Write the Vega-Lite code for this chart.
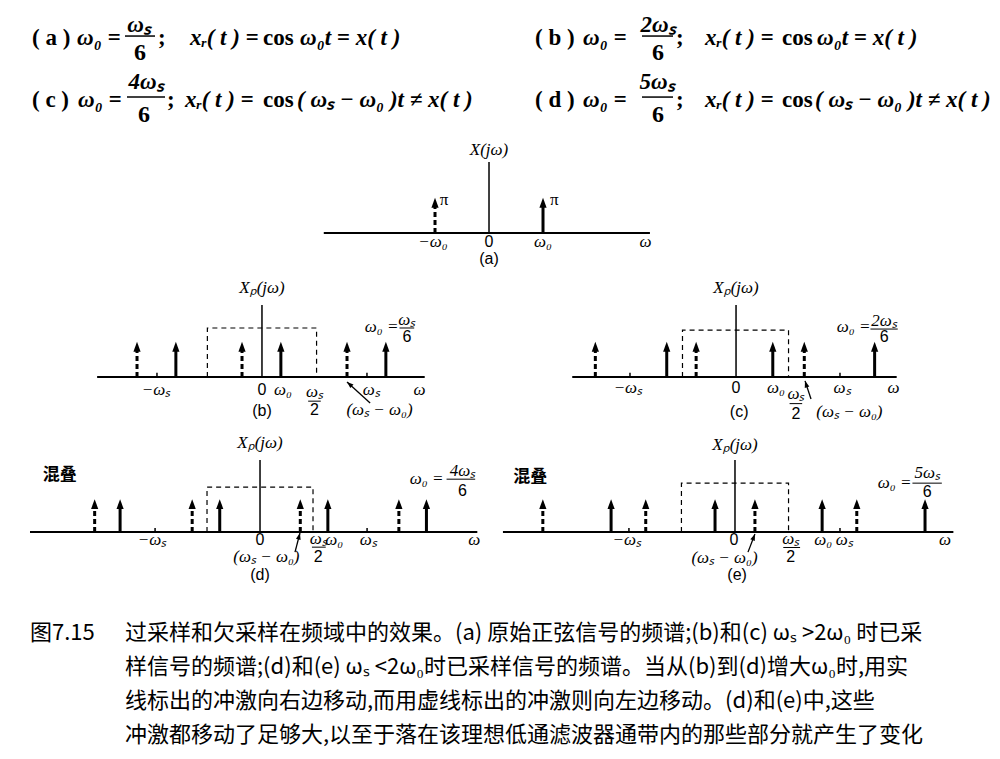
{
"$schema": "https://vega.github.io/schema/vega-lite/v6.json",
"padding": 0,
"spacing": 0,
"background": "white",
"config": {"view": {"stroke": null}, "concat": {"spacing": 0}},
"datasets": {
"formula": [
{"role":"tag","x":3.2,"y":28.1,"text":"( a )"},
{"role":"math","x":7.7,"y":28.1,"text":"ω₀ ="},
{"role":"fracnum","x":13.9,"y":18.5,"text":"ωₛ"},
{"role":"fracden","x":14.0,"y":39.3,"text":"6"},
{"role":"tag","x":15.8,"y":28.1,"text":";"},
{"role":"math","x":19.0,"y":28.1,"text":"xᵣ( t ) ="},
{"role":"tag","x":26.3,"y":28.1,"text":"cos"},
{"role":"math","x":30.0,"y":28.1,"text":"ω₀t = x( t )"},
{"role":"tag","x":53.5,"y":28.1,"text":"( b )"},
{"role":"math","x":58.3,"y":28.1,"text":"ω₀ ="},
{"role":"fracnum","x":65.8,"y":18.5,"text":"2ωₛ"},
{"role":"fracden","x":65.8,"y":39.3,"text":"6"},
{"role":"tag","x":67.6,"y":28.1,"text":";"},
{"role":"math","x":70.5,"y":28.1,"text":"xᵣ( t ) ="},
{"role":"tag","x":78.2,"y":28.1,"text":"cos"},
{"role":"math","x":81.7,"y":28.1,"text":"ω₀t = x( t )"},
{"role":"tag","x":3.2,"y":74.1,"text":"( c )"},
{"role":"math","x":7.8,"y":74.1,"text":"ω₀ ="},
{"role":"fracnum","x":14.6,"y":60.7,"text":"4ωₛ"},
{"role":"fracden","x":14.4,"y":85.2,"text":"6"},
{"role":"tag","x":16.7,"y":74.1,"text":";"},
{"role":"math","x":18.5,"y":74.1,"text":"xᵣ( t ) ="},
{"role":"tag","x":26.3,"y":74.1,"text":"cos"},
{"role":"math","x":29.7,"y":74.1,"text":"( ωₛ − ω₀ )t ≠ x( t )"},
{"role":"tag","x":53.5,"y":74.1,"text":"( d )"},
{"role":"math","x":58.3,"y":74.1,"text":"ω₀ ="},
{"role":"fracnum","x":65.7,"y":60.7,"text":"5ωₛ"},
{"role":"fracden","x":65.8,"y":85.2,"text":"6"},
{"role":"tag","x":67.6,"y":74.1,"text":";"},
{"role":"math","x":70.5,"y":74.1,"text":"xᵣ( t ) ="},
{"role":"tag","x":78.2,"y":74.1,"text":"cos"},
{"role":"math","x":81.5,"y":74.1,"text":"( ωₛ − ω₀ )t ≠ x( t )"}
],
"formulabars": [
{"x0":12.5,"x1":15.5,"y":26.7},
{"x0":64.2,"x1":67.3,"y":26.7},
{"x0":12.7,"x1":16.5,"y":71.9},
{"x0":64.2,"x1":67.3,"y":71.9}
],
"caption": [
{"x":3.0,"y":25.4,"text":"图7.15"},
{"x":12.5,"y":25.4,"text":"过采样和欠采样在频域中的效果。(a) 原始正弦信号的频谱;(b)和(c) ωₛ >2ω₀ 时已采"},
{"x":12.5,"y":45.6,"text":"样信号的频谱;(d)和(e) ωₛ <2ω₀时已采样信号的频谱。当从(b)到(d)增大ω₀时,用实"},
{"x":12.5,"y":65.7,"text":"线标出的冲激向右边移动,而用虚线标出的冲激则向左边移动。(d)和(e)中,这些"},
{"x":12.5,"y":85.8,"text":"冲激都移动了足够大,以至于落在该理想低通滤波器通带内的那些部分就产生了变化"}
],
"impulses": [
{"panel":"a","w":-1,"kind":"dashed","base":0,"amp":0.85},{"panel":"a","w":1,"kind":"solid","base":0,"amp":0.85},
{"panel":"b","w":-1.19,"kind":"dashed","base":0,"amp":0.85},{"panel":"b","w":-0.82,"kind":"solid","base":0,"amp":0.85},{"panel":"b","w":-0.19,"kind":"dashed","base":0,"amp":0.85},{"panel":"b","w":0.18,"kind":"solid","base":0,"amp":0.85},{"panel":"b","w":0.81,"kind":"dashed","base":0,"amp":0.85},{"panel":"b","w":1.18,"kind":"solid","base":0,"amp":0.85},
{"panel":"c","w":-1.34,"kind":"dashed","base":0,"amp":0.85},{"panel":"c","w":-0.66,"kind":"solid","base":0,"amp":0.85},{"panel":"c","w":-0.38,"kind":"dashed","base":0,"amp":0.85},{"panel":"c","w":0.35,"kind":"solid","base":0,"amp":0.85},{"panel":"c","w":0.65,"kind":"dashed","base":0,"amp":0.85},{"panel":"c","w":1.32,"kind":"solid","base":0,"amp":0.85},
{"panel":"d","w":-1.56,"kind":"dashed","base":0,"amp":0.83},{"panel":"d","w":-1.32,"kind":"solid","base":0,"amp":0.83},{"panel":"d","w":-0.64,"kind":"dashed","base":0,"amp":0.83},{"panel":"d","w":-0.38,"kind":"solid","base":0,"amp":0.83},{"panel":"d","w":0.38,"kind":"dashed","base":0,"amp":0.83},{"panel":"d","w":0.64,"kind":"solid","base":0,"amp":0.83},{"panel":"d","w":1.31,"kind":"dashed","base":0,"amp":0.83},{"panel":"d","w":1.57,"kind":"solid","base":0,"amp":0.83},
{"panel":"e","w":-1.83,"kind":"dashed","base":0,"amp":0.83},{"panel":"e","w":-1.18,"kind":"solid","base":0,"amp":0.83},{"panel":"e","w":-0.85,"kind":"dashed","base":0,"amp":0.83},{"panel":"e","w":-0.19,"kind":"solid","base":0,"amp":0.83},{"panel":"e","w":0.19,"kind":"dashed","base":0,"amp":0.83},{"panel":"e","w":0.83,"kind":"solid","base":0,"amp":0.83},{"panel":"e","w":1.16,"kind":"dashed","base":0,"amp":0.83},{"panel":"e","w":1.81,"kind":"solid","base":0,"amp":0.83}
],
"frames": [
{"panel":"a","wmin":-3.06,"wmax":2.98,"vtop":2.03,"origin":0},
{"panel":"b","wmin":-1.57,"wmax":1.55,"vtop":2.06,"origin":0},
{"panel":"c","wmin":-1.56,"wmax":1.53,"vtop":2.06,"origin":0},
{"panel":"d","wmin":-2.17,"wmax":2.05,"vtop":2.18,"origin":0},
{"panel":"e","wmin":-2.21,"wmax":2.08,"vtop":2.18,"origin":0}
],
"ticks": [
{"panel":"b","w":-1,"v0":0,"v1":0.12},{"panel":"b","w":1,"v0":0,"v1":0.12},
{"panel":"c","w":-1.01,"v0":0,"v1":0.12},{"panel":"c","w":0.99,"v0":0,"v1":0.12},
{"panel":"d","w":-0.99,"v0":0,"v1":0.12},{"panel":"d","w":1.01,"v0":0,"v1":0.12},
{"panel":"e","w":-1.01,"v0":0,"v1":0.12},{"panel":"e","w":1.0,"v0":0,"v1":0.12}
],
"passband": [
{"panel":"b","i":0,"w":-0.52,"v":0},{"panel":"b","i":1,"w":-0.52,"v":1.4},{"panel":"b","i":2,"w":0.52,"v":1.4},{"panel":"b","i":3,"w":0.52,"v":0},
{"panel":"c","i":0,"w":-0.51,"v":0},{"panel":"c","i":1,"w":-0.51,"v":1.34},{"panel":"c","i":2,"w":0.5,"v":1.34},{"panel":"c","i":3,"w":0.5,"v":0},
{"panel":"d","i":0,"w":-0.5,"v":0},{"panel":"d","i":1,"w":-0.5,"v":1.36},{"panel":"d","i":2,"w":0.5,"v":1.36},{"panel":"d","i":3,"w":0.5,"v":0},
{"panel":"e","i":0,"w":-0.51,"v":0},{"panel":"e","i":1,"w":-0.51,"v":1.48},{"panel":"e","i":2,"w":0.51,"v":1.48},{"panel":"e","i":3,"w":0.51,"v":0}
],
"fracbars": [
{"panel":"b","w0":0.44,"w1":0.56,"v":-0.69},{"panel":"b","w0":1.31,"w1":1.45,"v":1.4},
{"panel":"c","w0":0.51,"w1":0.63,"v":-0.76},{"panel":"c","w0":1.28,"w1":1.54,"v":1.37},
{"panel":"d","w0":0.49,"w1":0.62,"v":-0.46},{"panel":"d","w0":1.76,"w1":2.03,"v":1.6},
{"panel":"e","w0":0.46,"w1":0.62,"v":-0.47},{"panel":"e","w0":1.69,"w1":1.97,"v":1.48}
],
"pointers": [
{"panel":"b","w0":1.03,"v0":-0.74,"w1":0.81,"v1":-0.14,"angle":-48},
{"panel":"c","w0":0.714,"v0":-0.63,"w1":0.657,"v1":-0.11,"angle":-18},
{"panel":"d","w0":0.33,"v0":-0.61,"w1":0.377,"v1":-0.03,"angle":15},
{"panel":"e","w0":0.124,"v0":-0.61,"w1":0.19,"v1":-0.06,"angle":21}
],
"labels": [
{"panel":"a","role":"title","w":0,"v":2.37,"text":"X(jω)"},
{"panel":"a","role":"pi","w":1.13,"v":0.94,"text":"π"},
{"panel":"a","role":"pi","w":-0.91,"v":0.94,"text":"π"},
{"panel":"a","role":"sym","w":-1.04,"v":-0.27,"text":"−ω₀"},
{"panel":"a","role":"num","w":0,"v":-0.27,"text":"0"},
{"panel":"a","role":"sym","w":1.0,"v":-0.27,"text":"ω₀"},
{"panel":"a","role":"sym","w":2.9,"v":-0.27,"text":"ω"},
{"panel":"a","role":"tag","w":0,"v":-0.75,"text":"(a)"},
{"panel":"b","role":"title","w":0,"v":2.54,"text":"Xₚ(jω)"},
{"panel":"b","role":"sym","w":-1.01,"v":-0.36,"text":"−ωₛ"},
{"panel":"b","role":"num","w":0,"v":-0.36,"text":"0"},
{"panel":"b","role":"sym","w":0.2,"v":-0.36,"text":"ω₀"},
{"panel":"b","role":"sym","w":1.04,"v":-0.36,"text":"ωₛ"},
{"panel":"b","role":"sym","w":1.5,"v":-0.36,"text":"ω"},
{"panel":"b","role":"sym","w":0.5,"v":-0.43,"text":"ωₛ"},
{"panel":"b","role":"num","w":0.5,"v":-0.95,"text":"2"},
{"panel":"b","role":"tag","w":0,"v":-0.97,"text":"(b)"},
{"panel":"b","role":"sym","w":1.12,"v":-0.94,"text":"(ωₛ − ω₀)"},
{"panel":"b","role":"lhs","w":1.3,"v":1.42,"text":"ω₀ ="},
{"panel":"b","role":"sym","w":1.38,"v":1.62,"text":"ωₛ"},
{"panel":"b","role":"num","w":1.38,"v":1.14,"text":"6"},
{"panel":"c","role":"title","w":0,"v":2.54,"text":"Xₚ(jω)"},
{"panel":"c","role":"sym","w":-1.03,"v":-0.31,"text":"−ωₛ"},
{"panel":"c","role":"num","w":0,"v":-0.31,"text":"0"},
{"panel":"c","role":"sym","w":0.38,"v":-0.31,"text":"ω₀"},
{"panel":"c","role":"sym","w":1.01,"v":-0.31,"text":"ωₛ"},
{"panel":"c","role":"sym","w":1.5,"v":-0.31,"text":"ω"},
{"panel":"c","role":"sym","w":0.57,"v":-0.49,"text":"ωₛ"},
{"panel":"c","role":"num","w":0.57,"v":-1.05,"text":"2"},
{"panel":"c","role":"tag","w":0.03,"v":-1.0,"text":"(c)"},
{"panel":"c","role":"sym","w":1.08,"v":-1.0,"text":"(ωₛ − ω₀)"},
{"panel":"c","role":"lhs","w":1.28,"v":1.42,"text":"ω₀ ="},
{"panel":"c","role":"sym","w":1.41,"v":1.6,"text":"2ωₛ"},
{"panel":"c","role":"num","w":1.41,"v":1.14,"text":"6"},
{"panel":"d","role":"title","w":0,"v":2.7,"text":"Xₚ(jω)"},
{"panel":"d","role":"cjk","w":-1.89,"v":1.73,"text":"混叠"},
{"panel":"d","role":"sym","w":-1.02,"v":-0.24,"text":"−ωₛ"},
{"panel":"d","role":"num","w":0,"v":-0.24,"text":"0"},
{"panel":"d","role":"sym","w":0.7,"v":-0.24,"text":"ω₀"},
{"panel":"d","role":"sym","w":1.02,"v":-0.24,"text":"ωₛ"},
{"panel":"d","role":"sym","w":2.02,"v":-0.24,"text":"ω"},
{"panel":"d","role":"sym","w":0.55,"v":-0.2,"text":"ωₛ"},
{"panel":"d","role":"num","w":0.55,"v":-0.75,"text":"2"},
{"panel":"d","role":"sym","w":0.06,"v":-0.76,"text":"(ωₛ − ω₀)"},
{"panel":"d","role":"tag","w":0,"v":-1.3,"text":"(d)"},
{"panel":"d","role":"lhs","w":1.73,"v":1.6,"text":"ω₀ ="},
{"panel":"d","role":"sym","w":1.91,"v":1.85,"text":"4ωₛ"},
{"panel":"d","role":"num","w":1.91,"v":1.24,"text":"6"},
{"panel":"e","role":"title","w":0,"v":2.64,"text":"Xₚ(jω)"},
{"panel":"e","role":"cjk","w":-1.95,"v":1.67,"text":"混叠"},
{"panel":"e","role":"sym","w":-1.03,"v":-0.24,"text":"−ωₛ"},
{"panel":"e","role":"num","w":-0.01,"v":-0.24,"text":"0"},
{"panel":"e","role":"sym","w":0.84,"v":-0.24,"text":"ω₀"},
{"panel":"e","role":"sym","w":1.04,"v":-0.24,"text":"ωₛ"},
{"panel":"e","role":"sym","w":2.0,"v":-0.24,"text":"ω"},
{"panel":"e","role":"sym","w":0.53,"v":-0.2,"text":"ωₛ"},
{"panel":"e","role":"num","w":0.53,"v":-0.75,"text":"2"},
{"panel":"e","role":"sym","w":-0.1,"v":-0.79,"text":"(ωₛ − ω₀)"},
{"panel":"e","role":"tag","w":0.02,"v":-1.3,"text":"(e)"},
{"panel":"e","role":"lhs","w":1.68,"v":1.48,"text":"ω₀ ="},
{"panel":"e","role":"sym","w":1.83,"v":1.78,"text":"5ωₛ"},
{"panel":"e","role":"num","w":1.83,"v":1.2,"text":"6"}
]
},
"vconcat": [
{
"width": 1000, "height": 135,
"layer": [
{"data":{"name":"formula"},"transform":[{"filter":"datum.role==='tag'"}],"mark":{"type":"text","align":"left","baseline":"middle","font":"Liberation Serif","fontSize":23,"fontWeight":"bold","color":"black"},"encoding":{"x":{"field":"x","type":"quantitative","scale":{"domain":[0,100],"nice":false,"zero":false},"axis":null},"y":{"field":"y","type":"quantitative","scale":{"domain":[0,100],"nice":false,"zero":false,"reverse":true},"axis":null},"text":{"field":"text","type":"nominal"}}},
{"data":{"name":"formula"},"transform":[{"filter":"datum.role==='math'"}],"mark":{"type":"text","align":"left","baseline":"middle","font":"Liberation Serif","fontSize":23,"fontWeight":"bold","fontStyle":"italic","color":"black"},"encoding":{"x":{"field":"x","type":"quantitative","scale":{"domain":[0,100],"nice":false,"zero":false},"axis":null},"y":{"field":"y","type":"quantitative","scale":{"domain":[0,100],"nice":false,"zero":false,"reverse":true},"axis":null},"text":{"field":"text","type":"nominal"}}},
{"data":{"name":"formula"},"transform":[{"filter":"datum.role==='fracnum'"}],"mark":{"type":"text","align":"center","baseline":"middle","font":"Liberation Serif","fontSize":23,"fontWeight":"bold","fontStyle":"italic","color":"black"},"encoding":{"x":{"field":"x","type":"quantitative","scale":{"domain":[0,100],"nice":false,"zero":false},"axis":null},"y":{"field":"y","type":"quantitative","scale":{"domain":[0,100],"nice":false,"zero":false,"reverse":true},"axis":null},"text":{"field":"text","type":"nominal"}}},
{"data":{"name":"formula"},"transform":[{"filter":"datum.role==='fracden'"}],"mark":{"type":"text","align":"center","baseline":"middle","font":"Liberation Serif","fontSize":24,"fontWeight":"bold","color":"black"},"encoding":{"x":{"field":"x","type":"quantitative","scale":{"domain":[0,100],"nice":false,"zero":false},"axis":null},"y":{"field":"y","type":"quantitative","scale":{"domain":[0,100],"nice":false,"zero":false,"reverse":true},"axis":null},"text":{"field":"text","type":"nominal"}}},
{"data":{"name":"formulabars"},"mark":{"type":"rule","color":"black","strokeWidth":1.5},"encoding":{"x":{"field":"x0","type":"quantitative","scale":{"domain":[0,100],"nice":false,"zero":false},"axis":null},"x2":{"field":"x1"},"y":{"field":"y","type":"quantitative","scale":{"domain":[0,100],"nice":false,"zero":false,"reverse":true},"axis":null}}}
]
},
{
"width": 1000, "height": 133,
"layer": [
{"data":{"name":"frames"},"transform":[{"filter":"datum.panel==='a'"}],"mark":{"type":"rule","color":"black","strokeWidth":2},"encoding":{"x":{"field":"wmin","type":"quantitative","scale":{"domain":[-9.056,9.463],"nice":false,"zero":false},"axis":null},"x2":{"field":"wmax"},"y":{"field":"origin","type":"quantitative","scale":{"domain":[-1,2.8],"nice":false,"zero":false},"axis":null}}},
{"data":{"name":"frames"},"transform":[{"filter":"datum.panel==='a'"}],"mark":{"type":"rule","color":"black","strokeWidth":1.5},"encoding":{"x":{"field":"origin","type":"quantitative","scale":{"domain":[-9.056,9.463],"nice":false,"zero":false},"axis":null},"y":{"field":"origin","type":"quantitative","scale":{"domain":[-1,2.8],"nice":false,"zero":false},"axis":null},"y2":{"field":"vtop"}}},
{"data":{"name":"impulses"},"transform":[{"filter":"datum.panel==='a'"}],"mark":{"type":"rule","color":"black","strokeWidth":3},"encoding":{"x":{"field":"w","type":"quantitative","scale":{"domain":[-9.056,9.463],"nice":false,"zero":false},"axis":null},"y":{"field":"base","type":"quantitative","scale":{"domain":[-1,2.8],"nice":false,"zero":false},"axis":null},"y2":{"field":"amp"},"strokeDash":{"field":"kind","type":"nominal","scale":{"domain":["solid","dashed"],"range":[[1,0],[5,3]]},"legend":null}}},
{"data":{"name":"impulses"},"transform":[{"filter":"datum.panel==='a'"}],"mark":{"type":"point","shape":"M0,-1.2L-0.8,1L0.8,1Z","filled":true,"size":81,"opacity":1,"color":"black","strokeWidth":0},"encoding":{"x":{"field":"w","type":"quantitative","scale":{"domain":[-9.056,9.463],"nice":false,"zero":false},"axis":null},"y":{"field":"amp","type":"quantitative","scale":{"domain":[-1,2.8],"nice":false,"zero":false},"axis":null}}},
{"data":{"name":"labels"},"transform":[{"filter":"datum.panel==='a' && (datum.role==='sym' || datum.role==='title')"}],"mark":{"type":"text","align":"center","baseline":"middle","font":"Liberation Serif","fontSize":17,"fontStyle":"italic","color":"black"},"encoding":{"x":{"field":"w","type":"quantitative","scale":{"domain":[-9.056,9.463],"nice":false,"zero":false},"axis":null},"y":{"field":"v","type":"quantitative","scale":{"domain":[-1,2.8],"nice":false,"zero":false},"axis":null},"text":{"field":"text","type":"nominal"}}},
{"data":{"name":"labels"},"transform":[{"filter":"datum.panel==='a' && datum.role==='num'"}],"mark":{"type":"text","align":"center","baseline":"middle","font":"Liberation Sans","fontSize":16,"color":"black"},"encoding":{"x":{"field":"w","type":"quantitative","scale":{"domain":[-9.056,9.463],"nice":false,"zero":false},"axis":null},"y":{"field":"v","type":"quantitative","scale":{"domain":[-1,2.8],"nice":false,"zero":false},"axis":null},"text":{"field":"text","type":"nominal"}}},
{"data":{"name":"labels"},"transform":[{"filter":"datum.panel==='a' && datum.role==='tag'"}],"mark":{"type":"text","align":"center","baseline":"middle","font":"Liberation Sans","fontSize":16,"color":"black"},"encoding":{"x":{"field":"w","type":"quantitative","scale":{"domain":[-9.056,9.463],"nice":false,"zero":false},"axis":null},"y":{"field":"v","type":"quantitative","scale":{"domain":[-1,2.8],"nice":false,"zero":false},"axis":null},"text":{"field":"text","type":"nominal"}}},
{"data":{"name":"labels"},"transform":[{"filter":"datum.panel==='a' && datum.role==='pi'"}],"mark":{"type":"text","align":"left","baseline":"middle","font":"Liberation Serif","fontSize":17,"color":"black"},"encoding":{"x":{"field":"w","type":"quantitative","scale":{"domain":[-9.056,9.463],"nice":false,"zero":false},"axis":null},"y":{"field":"v","type":"quantitative","scale":{"domain":[-1,2.8],"nice":false,"zero":false},"axis":null},"text":{"field":"text","type":"nominal"}}}
]
},
{
"hconcat": [
{
"width": 500, "height": 157,
"layer": [
{"data":{"name":"frames"},"transform":[{"filter":"datum.panel==='b'"}],"mark":{"type":"rule","color":"black","strokeWidth":2},"encoding":{"x":{"field":"wmin","type":"quantitative","scale":{"domain":[-2.495,2.267],"nice":false,"zero":false},"axis":null},"x2":{"field":"wmax"},"y":{"field":"origin","type":"quantitative","scale":{"domain":[-1.371,3.114],"nice":false,"zero":false},"axis":null}}},
{"data":{"name":"frames"},"transform":[{"filter":"datum.panel==='b'"}],"mark":{"type":"rule","color":"black","strokeWidth":1.5},"encoding":{"x":{"field":"origin","type":"quantitative","scale":{"domain":[-2.495,2.267],"nice":false,"zero":false},"axis":null},"y":{"field":"origin","type":"quantitative","scale":{"domain":[-1.371,3.114],"nice":false,"zero":false},"axis":null},"y2":{"field":"vtop"}}},
{"data":{"name":"ticks"},"transform":[{"filter":"datum.panel==='b'"}],"mark":{"type":"rule","color":"black","strokeWidth":1.5},"encoding":{"x":{"field":"w","type":"quantitative","scale":{"domain":[-2.495,2.267],"nice":false,"zero":false},"axis":null},"y":{"field":"v0","type":"quantitative","scale":{"domain":[-1.371,3.114],"nice":false,"zero":false},"axis":null},"y2":{"field":"v1"}}},
{"data":{"name":"passband"},"transform":[{"filter":"datum.panel==='b'"}],"mark":{"type":"line","color":"black","strokeWidth":1.2,"strokeDash":[5,4]},"encoding":{"x":{"field":"w","type":"quantitative","scale":{"domain":[-2.495,2.267],"nice":false,"zero":false},"axis":null},"y":{"field":"v","type":"quantitative","scale":{"domain":[-1.371,3.114],"nice":false,"zero":false},"axis":null},"order":{"field":"i","type":"quantitative"}}},
{"data":{"name":"impulses"},"transform":[{"filter":"datum.panel==='b'"}],"mark":{"type":"rule","color":"black","strokeWidth":3},"encoding":{"x":{"field":"w","type":"quantitative","scale":{"domain":[-2.495,2.267],"nice":false,"zero":false},"axis":null},"y":{"field":"base","type":"quantitative","scale":{"domain":[-1.371,3.114],"nice":false,"zero":false},"axis":null},"y2":{"field":"amp"},"strokeDash":{"field":"kind","type":"nominal","scale":{"domain":["solid","dashed"],"range":[[1,0],[5,3]]},"legend":null}}},
{"data":{"name":"impulses"},"transform":[{"filter":"datum.panel==='b'"}],"mark":{"type":"point","shape":"M0,-1.2L-0.8,1L0.8,1Z","filled":true,"size":81,"opacity":1,"color":"black","strokeWidth":0},"encoding":{"x":{"field":"w","type":"quantitative","scale":{"domain":[-2.495,2.267],"nice":false,"zero":false},"axis":null},"y":{"field":"amp","type":"quantitative","scale":{"domain":[-1.371,3.114],"nice":false,"zero":false},"axis":null}}},
{"data":{"name":"labels"},"transform":[{"filter":"datum.panel==='b' && (datum.role==='sym' || datum.role==='title')"}],"mark":{"type":"text","align":"center","baseline":"middle","font":"Liberation Serif","fontSize":17,"fontStyle":"italic","color":"black"},"encoding":{"x":{"field":"w","type":"quantitative","scale":{"domain":[-2.495,2.267],"nice":false,"zero":false},"axis":null},"y":{"field":"v","type":"quantitative","scale":{"domain":[-1.371,3.114],"nice":false,"zero":false},"axis":null},"text":{"field":"text","type":"nominal"}}},
{"data":{"name":"labels"},"transform":[{"filter":"datum.panel==='b' && datum.role==='lhs'"}],"mark":{"type":"text","align":"right","baseline":"middle","font":"Liberation Serif","fontSize":17,"fontStyle":"italic","color":"black"},"encoding":{"x":{"field":"w","type":"quantitative","scale":{"domain":[-2.495,2.267],"nice":false,"zero":false},"axis":null},"y":{"field":"v","type":"quantitative","scale":{"domain":[-1.371,3.114],"nice":false,"zero":false},"axis":null},"text":{"field":"text","type":"nominal"}}},
{"data":{"name":"labels"},"transform":[{"filter":"datum.panel==='b' && datum.role==='num'"}],"mark":{"type":"text","align":"center","baseline":"middle","font":"Liberation Sans","fontSize":16,"color":"black"},"encoding":{"x":{"field":"w","type":"quantitative","scale":{"domain":[-2.495,2.267],"nice":false,"zero":false},"axis":null},"y":{"field":"v","type":"quantitative","scale":{"domain":[-1.371,3.114],"nice":false,"zero":false},"axis":null},"text":{"field":"text","type":"nominal"}}},
{"data":{"name":"labels"},"transform":[{"filter":"datum.panel==='b' && datum.role==='tag'"}],"mark":{"type":"text","align":"center","baseline":"middle","font":"Liberation Sans","fontSize":16,"color":"black"},"encoding":{"x":{"field":"w","type":"quantitative","scale":{"domain":[-2.495,2.267],"nice":false,"zero":false},"axis":null},"y":{"field":"v","type":"quantitative","scale":{"domain":[-1.371,3.114],"nice":false,"zero":false},"axis":null},"text":{"field":"text","type":"nominal"}}},
{"data":{"name":"fracbars"},"transform":[{"filter":"datum.panel==='b'"}],"mark":{"type":"rule","color":"black","strokeWidth":1},"encoding":{"x":{"field":"w0","type":"quantitative","scale":{"domain":[-2.495,2.267],"nice":false,"zero":false},"axis":null},"x2":{"field":"w1"},"y":{"field":"v","type":"quantitative","scale":{"domain":[-1.371,3.114],"nice":false,"zero":false},"axis":null}}},
{"data":{"name":"pointers"},"transform":[{"filter":"datum.panel==='b'"}],"mark":{"type":"rule","color":"black","strokeWidth":1.3},"encoding":{"x":{"field":"w0","type":"quantitative","scale":{"domain":[-2.495,2.267],"nice":false,"zero":false},"axis":null},"y":{"field":"v0","type":"quantitative","scale":{"domain":[-1.371,3.114],"nice":false,"zero":false},"axis":null},"x2":{"field":"w1"},"y2":{"field":"v1"}}},
{"data":{"name":"pointers"},"transform":[{"filter":"datum.panel==='b'"}],"mark":{"type":"point","shape":"M0,0L-0.8,2.2L0.8,2.2Z","filled":true,"size":36,"opacity":1,"color":"black","strokeWidth":0},"encoding":{"x":{"field":"w1","type":"quantitative","scale":{"domain":[-2.495,2.267],"nice":false,"zero":false},"axis":null},"y":{"field":"v1","type":"quantitative","scale":{"domain":[-1.371,3.114],"nice":false,"zero":false},"axis":null},"angle":{"field":"angle","type":"quantitative","scale":{"domain":[-180,180],"range":[-180,180]}}}}
]
},
{
"width": 500, "height": 157,
"layer": [
{"data":{"name":"frames"},"transform":[{"filter":"datum.panel==='c'"}],"mark":{"type":"rule","color":"black","strokeWidth":2},"encoding":{"x":{"field":"wmin","type":"quantitative","scale":{"domain":[-2.248,2.514],"nice":false,"zero":false},"axis":null},"x2":{"field":"wmax"},"y":{"field":"origin","type":"quantitative","scale":{"domain":[-1.371,3.114],"nice":false,"zero":false},"axis":null}}},
{"data":{"name":"frames"},"transform":[{"filter":"datum.panel==='c'"}],"mark":{"type":"rule","color":"black","strokeWidth":1.5},"encoding":{"x":{"field":"origin","type":"quantitative","scale":{"domain":[-2.248,2.514],"nice":false,"zero":false},"axis":null},"y":{"field":"origin","type":"quantitative","scale":{"domain":[-1.371,3.114],"nice":false,"zero":false},"axis":null},"y2":{"field":"vtop"}}},
{"data":{"name":"ticks"},"transform":[{"filter":"datum.panel==='c'"}],"mark":{"type":"rule","color":"black","strokeWidth":1.5},"encoding":{"x":{"field":"w","type":"quantitative","scale":{"domain":[-2.248,2.514],"nice":false,"zero":false},"axis":null},"y":{"field":"v0","type":"quantitative","scale":{"domain":[-1.371,3.114],"nice":false,"zero":false},"axis":null},"y2":{"field":"v1"}}},
{"data":{"name":"passband"},"transform":[{"filter":"datum.panel==='c'"}],"mark":{"type":"line","color":"black","strokeWidth":1.2,"strokeDash":[5,4]},"encoding":{"x":{"field":"w","type":"quantitative","scale":{"domain":[-2.248,2.514],"nice":false,"zero":false},"axis":null},"y":{"field":"v","type":"quantitative","scale":{"domain":[-1.371,3.114],"nice":false,"zero":false},"axis":null},"order":{"field":"i","type":"quantitative"}}},
{"data":{"name":"impulses"},"transform":[{"filter":"datum.panel==='c'"}],"mark":{"type":"rule","color":"black","strokeWidth":3},"encoding":{"x":{"field":"w","type":"quantitative","scale":{"domain":[-2.248,2.514],"nice":false,"zero":false},"axis":null},"y":{"field":"base","type":"quantitative","scale":{"domain":[-1.371,3.114],"nice":false,"zero":false},"axis":null},"y2":{"field":"amp"},"strokeDash":{"field":"kind","type":"nominal","scale":{"domain":["solid","dashed"],"range":[[1,0],[5,3]]},"legend":null}}},
{"data":{"name":"impulses"},"transform":[{"filter":"datum.panel==='c'"}],"mark":{"type":"point","shape":"M0,-1.2L-0.8,1L0.8,1Z","filled":true,"size":81,"opacity":1,"color":"black","strokeWidth":0},"encoding":{"x":{"field":"w","type":"quantitative","scale":{"domain":[-2.248,2.514],"nice":false,"zero":false},"axis":null},"y":{"field":"amp","type":"quantitative","scale":{"domain":[-1.371,3.114],"nice":false,"zero":false},"axis":null}}},
{"data":{"name":"labels"},"transform":[{"filter":"datum.panel==='c' && (datum.role==='sym' || datum.role==='title')"}],"mark":{"type":"text","align":"center","baseline":"middle","font":"Liberation Serif","fontSize":17,"fontStyle":"italic","color":"black"},"encoding":{"x":{"field":"w","type":"quantitative","scale":{"domain":[-2.248,2.514],"nice":false,"zero":false},"axis":null},"y":{"field":"v","type":"quantitative","scale":{"domain":[-1.371,3.114],"nice":false,"zero":false},"axis":null},"text":{"field":"text","type":"nominal"}}},
{"data":{"name":"labels"},"transform":[{"filter":"datum.panel==='c' && datum.role==='lhs'"}],"mark":{"type":"text","align":"right","baseline":"middle","font":"Liberation Serif","fontSize":17,"fontStyle":"italic","color":"black"},"encoding":{"x":{"field":"w","type":"quantitative","scale":{"domain":[-2.248,2.514],"nice":false,"zero":false},"axis":null},"y":{"field":"v","type":"quantitative","scale":{"domain":[-1.371,3.114],"nice":false,"zero":false},"axis":null},"text":{"field":"text","type":"nominal"}}},
{"data":{"name":"labels"},"transform":[{"filter":"datum.panel==='c' && datum.role==='num'"}],"mark":{"type":"text","align":"center","baseline":"middle","font":"Liberation Sans","fontSize":16,"color":"black"},"encoding":{"x":{"field":"w","type":"quantitative","scale":{"domain":[-2.248,2.514],"nice":false,"zero":false},"axis":null},"y":{"field":"v","type":"quantitative","scale":{"domain":[-1.371,3.114],"nice":false,"zero":false},"axis":null},"text":{"field":"text","type":"nominal"}}},
{"data":{"name":"labels"},"transform":[{"filter":"datum.panel==='c' && datum.role==='tag'"}],"mark":{"type":"text","align":"center","baseline":"middle","font":"Liberation Sans","fontSize":16,"color":"black"},"encoding":{"x":{"field":"w","type":"quantitative","scale":{"domain":[-2.248,2.514],"nice":false,"zero":false},"axis":null},"y":{"field":"v","type":"quantitative","scale":{"domain":[-1.371,3.114],"nice":false,"zero":false},"axis":null},"text":{"field":"text","type":"nominal"}}},
{"data":{"name":"fracbars"},"transform":[{"filter":"datum.panel==='c'"}],"mark":{"type":"rule","color":"black","strokeWidth":1},"encoding":{"x":{"field":"w0","type":"quantitative","scale":{"domain":[-2.248,2.514],"nice":false,"zero":false},"axis":null},"x2":{"field":"w1"},"y":{"field":"v","type":"quantitative","scale":{"domain":[-1.371,3.114],"nice":false,"zero":false},"axis":null}}},
{"data":{"name":"pointers"},"transform":[{"filter":"datum.panel==='c'"}],"mark":{"type":"rule","color":"black","strokeWidth":1.3},"encoding":{"x":{"field":"w0","type":"quantitative","scale":{"domain":[-2.248,2.514],"nice":false,"zero":false},"axis":null},"y":{"field":"v0","type":"quantitative","scale":{"domain":[-1.371,3.114],"nice":false,"zero":false},"axis":null},"x2":{"field":"w1"},"y2":{"field":"v1"}}},
{"data":{"name":"pointers"},"transform":[{"filter":"datum.panel==='c'"}],"mark":{"type":"point","shape":"M0,0L-0.8,2.2L0.8,2.2Z","filled":true,"size":36,"opacity":1,"color":"black","strokeWidth":0},"encoding":{"x":{"field":"w1","type":"quantitative","scale":{"domain":[-2.248,2.514],"nice":false,"zero":false},"axis":null},"y":{"field":"v1","type":"quantitative","scale":{"domain":[-1.371,3.114],"nice":false,"zero":false},"axis":null},"angle":{"field":"angle","type":"quantitative","scale":{"domain":[-180,180],"range":[-180,180]}}}}
]
}
]
},
{
"hconcat": [
{
"width": 500, "height": 165,
"layer": [
{"data":{"name":"frames"},"transform":[{"filter":"datum.panel==='d'"}],"mark":{"type":"rule","color":"black","strokeWidth":2},"encoding":{"x":{"field":"wmin","type":"quantitative","scale":{"domain":[-2.453,2.264],"nice":false,"zero":false},"axis":null},"x2":{"field":"wmax"},"y":{"field":"origin","type":"quantitative","scale":{"domain":[-1.758,3.242],"nice":false,"zero":false},"axis":null}}},
{"data":{"name":"frames"},"transform":[{"filter":"datum.panel==='d'"}],"mark":{"type":"rule","color":"black","strokeWidth":1.5},"encoding":{"x":{"field":"origin","type":"quantitative","scale":{"domain":[-2.453,2.264],"nice":false,"zero":false},"axis":null},"y":{"field":"origin","type":"quantitative","scale":{"domain":[-1.758,3.242],"nice":false,"zero":false},"axis":null},"y2":{"field":"vtop"}}},
{"data":{"name":"ticks"},"transform":[{"filter":"datum.panel==='d'"}],"mark":{"type":"rule","color":"black","strokeWidth":1.5},"encoding":{"x":{"field":"w","type":"quantitative","scale":{"domain":[-2.453,2.264],"nice":false,"zero":false},"axis":null},"y":{"field":"v0","type":"quantitative","scale":{"domain":[-1.758,3.242],"nice":false,"zero":false},"axis":null},"y2":{"field":"v1"}}},
{"data":{"name":"passband"},"transform":[{"filter":"datum.panel==='d'"}],"mark":{"type":"line","color":"black","strokeWidth":1.2,"strokeDash":[5,4]},"encoding":{"x":{"field":"w","type":"quantitative","scale":{"domain":[-2.453,2.264],"nice":false,"zero":false},"axis":null},"y":{"field":"v","type":"quantitative","scale":{"domain":[-1.758,3.242],"nice":false,"zero":false},"axis":null},"order":{"field":"i","type":"quantitative"}}},
{"data":{"name":"impulses"},"transform":[{"filter":"datum.panel==='d'"}],"mark":{"type":"rule","color":"black","strokeWidth":3},"encoding":{"x":{"field":"w","type":"quantitative","scale":{"domain":[-2.453,2.264],"nice":false,"zero":false},"axis":null},"y":{"field":"base","type":"quantitative","scale":{"domain":[-1.758,3.242],"nice":false,"zero":false},"axis":null},"y2":{"field":"amp"},"strokeDash":{"field":"kind","type":"nominal","scale":{"domain":["solid","dashed"],"range":[[1,0],[5,3]]},"legend":null}}},
{"data":{"name":"impulses"},"transform":[{"filter":"datum.panel==='d'"}],"mark":{"type":"point","shape":"M0,-1.2L-0.8,1L0.8,1Z","filled":true,"size":81,"opacity":1,"color":"black","strokeWidth":0},"encoding":{"x":{"field":"w","type":"quantitative","scale":{"domain":[-2.453,2.264],"nice":false,"zero":false},"axis":null},"y":{"field":"amp","type":"quantitative","scale":{"domain":[-1.758,3.242],"nice":false,"zero":false},"axis":null}}},
{"data":{"name":"labels"},"transform":[{"filter":"datum.panel==='d' && (datum.role==='sym' || datum.role==='title')"}],"mark":{"type":"text","align":"center","baseline":"middle","font":"Liberation Serif","fontSize":17,"fontStyle":"italic","color":"black"},"encoding":{"x":{"field":"w","type":"quantitative","scale":{"domain":[-2.453,2.264],"nice":false,"zero":false},"axis":null},"y":{"field":"v","type":"quantitative","scale":{"domain":[-1.758,3.242],"nice":false,"zero":false},"axis":null},"text":{"field":"text","type":"nominal"}}},
{"data":{"name":"labels"},"transform":[{"filter":"datum.panel==='d' && datum.role==='lhs'"}],"mark":{"type":"text","align":"right","baseline":"middle","font":"Liberation Serif","fontSize":17,"fontStyle":"italic","color":"black"},"encoding":{"x":{"field":"w","type":"quantitative","scale":{"domain":[-2.453,2.264],"nice":false,"zero":false},"axis":null},"y":{"field":"v","type":"quantitative","scale":{"domain":[-1.758,3.242],"nice":false,"zero":false},"axis":null},"text":{"field":"text","type":"nominal"}}},
{"data":{"name":"labels"},"transform":[{"filter":"datum.panel==='d' && datum.role==='num'"}],"mark":{"type":"text","align":"center","baseline":"middle","font":"Liberation Sans","fontSize":16,"color":"black"},"encoding":{"x":{"field":"w","type":"quantitative","scale":{"domain":[-2.453,2.264],"nice":false,"zero":false},"axis":null},"y":{"field":"v","type":"quantitative","scale":{"domain":[-1.758,3.242],"nice":false,"zero":false},"axis":null},"text":{"field":"text","type":"nominal"}}},
{"data":{"name":"labels"},"transform":[{"filter":"datum.panel==='d' && datum.role==='tag'"}],"mark":{"type":"text","align":"center","baseline":"middle","font":"Liberation Sans","fontSize":16,"color":"black"},"encoding":{"x":{"field":"w","type":"quantitative","scale":{"domain":[-2.453,2.264],"nice":false,"zero":false},"axis":null},"y":{"field":"v","type":"quantitative","scale":{"domain":[-1.758,3.242],"nice":false,"zero":false},"axis":null},"text":{"field":"text","type":"nominal"}}},
{"data":{"name":"labels"},"transform":[{"filter":"datum.panel==='d' && datum.role==='cjk'"}],"mark":{"type":"text","align":"center","baseline":"middle","font":"Noto Sans CJK SC","fontSize":17,"fontWeight":"bold","color":"black"},"encoding":{"x":{"field":"w","type":"quantitative","scale":{"domain":[-2.453,2.264],"nice":false,"zero":false},"axis":null},"y":{"field":"v","type":"quantitative","scale":{"domain":[-1.758,3.242],"nice":false,"zero":false},"axis":null},"text":{"field":"text","type":"nominal"}}},
{"data":{"name":"fracbars"},"transform":[{"filter":"datum.panel==='d'"}],"mark":{"type":"rule","color":"black","strokeWidth":1},"encoding":{"x":{"field":"w0","type":"quantitative","scale":{"domain":[-2.453,2.264],"nice":false,"zero":false},"axis":null},"x2":{"field":"w1"},"y":{"field":"v","type":"quantitative","scale":{"domain":[-1.758,3.242],"nice":false,"zero":false},"axis":null}}},
{"data":{"name":"pointers"},"transform":[{"filter":"datum.panel==='d'"}],"mark":{"type":"rule","color":"black","strokeWidth":1.3},"encoding":{"x":{"field":"w0","type":"quantitative","scale":{"domain":[-2.453,2.264],"nice":false,"zero":false},"axis":null},"y":{"field":"v0","type":"quantitative","scale":{"domain":[-1.758,3.242],"nice":false,"zero":false},"axis":null},"x2":{"field":"w1"},"y2":{"field":"v1"}}},
{"data":{"name":"pointers"},"transform":[{"filter":"datum.panel==='d'"}],"mark":{"type":"point","shape":"M0,0L-0.8,2.2L0.8,2.2Z","filled":true,"size":36,"opacity":1,"color":"black","strokeWidth":0},"encoding":{"x":{"field":"w1","type":"quantitative","scale":{"domain":[-2.453,2.264],"nice":false,"zero":false},"axis":null},"y":{"field":"v1","type":"quantitative","scale":{"domain":[-1.758,3.242],"nice":false,"zero":false},"axis":null},"angle":{"field":"angle","type":"quantitative","scale":{"domain":[-180,180],"range":[-180,180]}}}}
]
},
{
"width": 500, "height": 165,
"layer": [
{"data":{"name":"frames"},"transform":[{"filter":"datum.panel==='e'"}],"mark":{"type":"rule","color":"black","strokeWidth":2},"encoding":{"x":{"field":"wmin","type":"quantitative","scale":{"domain":[-2.238,2.524],"nice":false,"zero":false},"axis":null},"x2":{"field":"wmax"},"y":{"field":"origin","type":"quantitative","scale":{"domain":[-1.758,3.242],"nice":false,"zero":false},"axis":null}}},
{"data":{"name":"frames"},"transform":[{"filter":"datum.panel==='e'"}],"mark":{"type":"rule","color":"black","strokeWidth":1.5},"encoding":{"x":{"field":"origin","type":"quantitative","scale":{"domain":[-2.238,2.524],"nice":false,"zero":false},"axis":null},"y":{"field":"origin","type":"quantitative","scale":{"domain":[-1.758,3.242],"nice":false,"zero":false},"axis":null},"y2":{"field":"vtop"}}},
{"data":{"name":"ticks"},"transform":[{"filter":"datum.panel==='e'"}],"mark":{"type":"rule","color":"black","strokeWidth":1.5},"encoding":{"x":{"field":"w","type":"quantitative","scale":{"domain":[-2.238,2.524],"nice":false,"zero":false},"axis":null},"y":{"field":"v0","type":"quantitative","scale":{"domain":[-1.758,3.242],"nice":false,"zero":false},"axis":null},"y2":{"field":"v1"}}},
{"data":{"name":"passband"},"transform":[{"filter":"datum.panel==='e'"}],"mark":{"type":"line","color":"black","strokeWidth":1.2,"strokeDash":[5,4]},"encoding":{"x":{"field":"w","type":"quantitative","scale":{"domain":[-2.238,2.524],"nice":false,"zero":false},"axis":null},"y":{"field":"v","type":"quantitative","scale":{"domain":[-1.758,3.242],"nice":false,"zero":false},"axis":null},"order":{"field":"i","type":"quantitative"}}},
{"data":{"name":"impulses"},"transform":[{"filter":"datum.panel==='e'"}],"mark":{"type":"rule","color":"black","strokeWidth":3},"encoding":{"x":{"field":"w","type":"quantitative","scale":{"domain":[-2.238,2.524],"nice":false,"zero":false},"axis":null},"y":{"field":"base","type":"quantitative","scale":{"domain":[-1.758,3.242],"nice":false,"zero":false},"axis":null},"y2":{"field":"amp"},"strokeDash":{"field":"kind","type":"nominal","scale":{"domain":["solid","dashed"],"range":[[1,0],[5,3]]},"legend":null}}},
{"data":{"name":"impulses"},"transform":[{"filter":"datum.panel==='e'"}],"mark":{"type":"point","shape":"M0,-1.2L-0.8,1L0.8,1Z","filled":true,"size":81,"opacity":1,"color":"black","strokeWidth":0},"encoding":{"x":{"field":"w","type":"quantitative","scale":{"domain":[-2.238,2.524],"nice":false,"zero":false},"axis":null},"y":{"field":"amp","type":"quantitative","scale":{"domain":[-1.758,3.242],"nice":false,"zero":false},"axis":null}}},
{"data":{"name":"labels"},"transform":[{"filter":"datum.panel==='e' && (datum.role==='sym' || datum.role==='title')"}],"mark":{"type":"text","align":"center","baseline":"middle","font":"Liberation Serif","fontSize":17,"fontStyle":"italic","color":"black"},"encoding":{"x":{"field":"w","type":"quantitative","scale":{"domain":[-2.238,2.524],"nice":false,"zero":false},"axis":null},"y":{"field":"v","type":"quantitative","scale":{"domain":[-1.758,3.242],"nice":false,"zero":false},"axis":null},"text":{"field":"text","type":"nominal"}}},
{"data":{"name":"labels"},"transform":[{"filter":"datum.panel==='e' && datum.role==='lhs'"}],"mark":{"type":"text","align":"right","baseline":"middle","font":"Liberation Serif","fontSize":17,"fontStyle":"italic","color":"black"},"encoding":{"x":{"field":"w","type":"quantitative","scale":{"domain":[-2.238,2.524],"nice":false,"zero":false},"axis":null},"y":{"field":"v","type":"quantitative","scale":{"domain":[-1.758,3.242],"nice":false,"zero":false},"axis":null},"text":{"field":"text","type":"nominal"}}},
{"data":{"name":"labels"},"transform":[{"filter":"datum.panel==='e' && datum.role==='num'"}],"mark":{"type":"text","align":"center","baseline":"middle","font":"Liberation Sans","fontSize":16,"color":"black"},"encoding":{"x":{"field":"w","type":"quantitative","scale":{"domain":[-2.238,2.524],"nice":false,"zero":false},"axis":null},"y":{"field":"v","type":"quantitative","scale":{"domain":[-1.758,3.242],"nice":false,"zero":false},"axis":null},"text":{"field":"text","type":"nominal"}}},
{"data":{"name":"labels"},"transform":[{"filter":"datum.panel==='e' && datum.role==='tag'"}],"mark":{"type":"text","align":"center","baseline":"middle","font":"Liberation Sans","fontSize":16,"color":"black"},"encoding":{"x":{"field":"w","type":"quantitative","scale":{"domain":[-2.238,2.524],"nice":false,"zero":false},"axis":null},"y":{"field":"v","type":"quantitative","scale":{"domain":[-1.758,3.242],"nice":false,"zero":false},"axis":null},"text":{"field":"text","type":"nominal"}}},
{"data":{"name":"labels"},"transform":[{"filter":"datum.panel==='e' && datum.role==='cjk'"}],"mark":{"type":"text","align":"center","baseline":"middle","font":"Noto Sans CJK SC","fontSize":17,"fontWeight":"bold","color":"black"},"encoding":{"x":{"field":"w","type":"quantitative","scale":{"domain":[-2.238,2.524],"nice":false,"zero":false},"axis":null},"y":{"field":"v","type":"quantitative","scale":{"domain":[-1.758,3.242],"nice":false,"zero":false},"axis":null},"text":{"field":"text","type":"nominal"}}},
{"data":{"name":"fracbars"},"transform":[{"filter":"datum.panel==='e'"}],"mark":{"type":"rule","color":"black","strokeWidth":1},"encoding":{"x":{"field":"w0","type":"quantitative","scale":{"domain":[-2.238,2.524],"nice":false,"zero":false},"axis":null},"x2":{"field":"w1"},"y":{"field":"v","type":"quantitative","scale":{"domain":[-1.758,3.242],"nice":false,"zero":false},"axis":null}}},
{"data":{"name":"pointers"},"transform":[{"filter":"datum.panel==='e'"}],"mark":{"type":"rule","color":"black","strokeWidth":1.3},"encoding":{"x":{"field":"w0","type":"quantitative","scale":{"domain":[-2.238,2.524],"nice":false,"zero":false},"axis":null},"y":{"field":"v0","type":"quantitative","scale":{"domain":[-1.758,3.242],"nice":false,"zero":false},"axis":null},"x2":{"field":"w1"},"y2":{"field":"v1"}}},
{"data":{"name":"pointers"},"transform":[{"filter":"datum.panel==='e'"}],"mark":{"type":"point","shape":"M0,0L-0.8,2.2L0.8,2.2Z","filled":true,"size":36,"opacity":1,"color":"black","strokeWidth":0},"encoding":{"x":{"field":"w1","type":"quantitative","scale":{"domain":[-2.238,2.524],"nice":false,"zero":false},"axis":null},"y":{"field":"v1","type":"quantitative","scale":{"domain":[-1.758,3.242],"nice":false,"zero":false},"axis":null},"angle":{"field":"angle","type":"quantitative","scale":{"domain":[-180,180],"range":[-180,180]}}}}
]
}
]
},
{
"width": 1000, "height": 169,
"layer": [
{"data":{"name":"caption"},"mark":{"type":"text","align":"left","baseline":"middle","font":"Noto Sans CJK SC","fontSize":22,"color":"black"},"encoding":{"x":{"field":"x","type":"quantitative","scale":{"domain":[0,100],"nice":false,"zero":false},"axis":null},"y":{"field":"y","type":"quantitative","scale":{"domain":[0,100],"nice":false,"zero":false,"reverse":true},"axis":null},"text":{"field":"text","type":"nominal"}}}
]
}
]
}
